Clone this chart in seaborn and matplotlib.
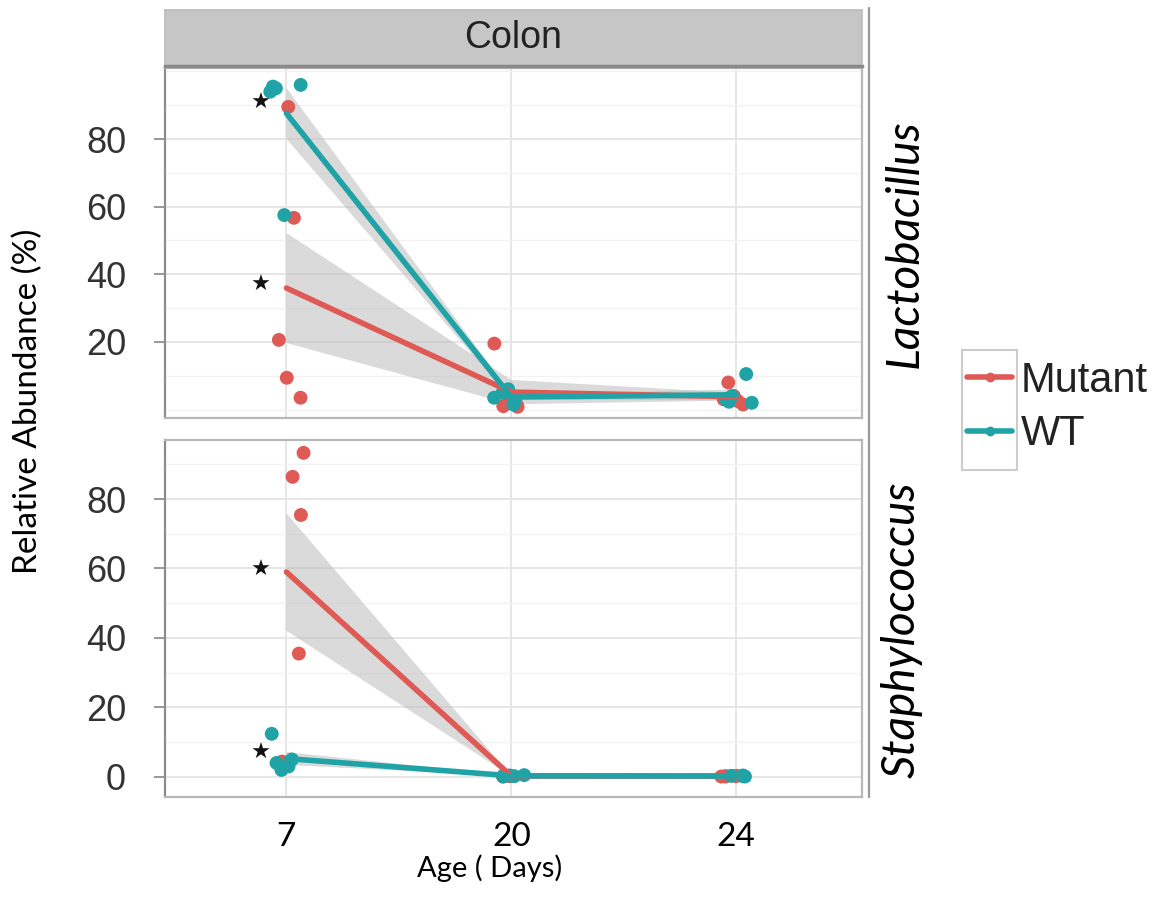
import numpy as np
import pandas as pd
import matplotlib
matplotlib.use("Agg")
import matplotlib.pyplot as plt
import seaborn as sns
from matplotlib.lines import Line2D
from matplotlib.patches import Rectangle
from matplotlib.collections import PolyCollection
from matplotlib.ticker import MultipleLocator

sns.set_theme(style="white")
plt.rcParams["font.family"] = ["Liberation Sans", "DejaVu Sans"]

# data (Colon, relative abundance %)
AGES = ["7", "20", "24"]
GENOTYPES = ["Mutant", "WT"]
TAXA = ["Lactobacillus", "Staphylococcus"]

lacto_mutant_7 = [89.5, 56.7, 20.6, 9.4, 3.5]
lacto_mutant_20 = [19.5, 3.0, 1.5, 1.0, 0.8]
lacto_mutant_24 = [8.0, 1.5, 4.0, 3.0, 2.5]
lacto_wt_7 = [96.0, 95.5, 95.0, 94.0, 57.5]
lacto_wt_20 = [2.5, 3.5, 1.5, 5.0, 6.0]
lacto_wt_24 = [10.5, 2.3, 3.0, 4.0, 2.0]

staph_mutant_7 = [93.3, 86.4, 75.4, 35.5, 4.4]
staph_mutant_20 = [0.3, 0.2, 0.1, 0.4, 0.2]
staph_mutant_24 = [0.2, 0.1, 0.3, 0.1, 0.2]
staph_wt_7 = [12.4, 5.0, 3.0, 2.0, 4.0]
staph_wt_20 = [0.5, 0.2, 0.3, 0.1, 0.4]
staph_wt_24 = [0.3, 0.2, 0.1, 0.4, 0.2]

# significance stars at day 7 (y positions)
lacto_star_y = [90.6, 36.8]
staph_star_y = [59.5, 7.0]

PALETTE = {"Mutant": "#E05A55", "WT": "#1FA3A6"}

groups = {
    ("Lactobacillus", "Mutant"): [lacto_mutant_7, lacto_mutant_20, lacto_mutant_24],
    ("Lactobacillus", "WT"): [lacto_wt_7, lacto_wt_20, lacto_wt_24],
    ("Staphylococcus", "Mutant"): [staph_mutant_7, staph_mutant_20, staph_mutant_24],
    ("Staphylococcus", "WT"): [staph_wt_7, staph_wt_20, staph_wt_24],
}
rows = []
for (taxon, geno), per_age in groups.items():
    for age, vals in zip(AGES, per_age):
        for v in vals:
            rows.append({"taxon": taxon, "genotype": geno, "age": age, "abundance": v})
df = pd.DataFrame(rows)
df["pos"] = df["age"].map({a: i for i, a in enumerate(AGES)})

W, H = 1158, 911
fig = plt.figure(figsize=(W / 100, H / 100), dpi=100)

def fbox(x0, y0, x1, y1):
    return [x0 / W, 1 - y1 / H, (x1 - x0) / W, (y1 - y0) / H]

ax_top = fig.add_axes(fbox(165, 68, 862, 418))
ax_bot = fig.add_axes(fbox(165, 440, 862, 797))
panel_cfg = [
    (ax_top, "Lactobacillus", (-2.5, 101), [20, 40, 60, 80], lacto_star_y),
    (ax_bot, "Staphylococcus", (-5.8, 97), [0, 20, 40, 60, 80], staph_star_y),
]

np.random.seed(3)
for ax, taxon, ylim, yticks, stars in panel_cfg:
    sub = df[df["taxon"] == taxon]
    sns.stripplot(data=sub, x="age", y="abundance", hue="genotype", order=AGES,
                  hue_order=GENOTYPES, palette=PALETTE, jitter=0.08, size=10,
                  linewidth=0, ax=ax, legend=False, zorder=3)
    n_before = len(ax.collections)
    sns.lineplot(data=sub, x="pos", y="abundance", hue="genotype",
                 hue_order=GENOTYPES, palette=PALETTE, errorbar="se",
                 linewidth=4, ax=ax, legend=False, zorder=4)
    for coll in ax.collections[n_before:]:
        if isinstance(coll, PolyCollection):
            coll.set_facecolor("#bdbdbd")
            coll.set_alpha(0.55)
            coll.set_edgecolor("none")
            coll.set_zorder(2)
    for s in stars:
        ax.text(-0.115, s, "\u2605", ha="center", va="center", fontsize=16,
                color="#111111", family="DejaVu Sans", zorder=5)

    ax.set_xlim(-0.54, 2.56)
    ax.set_ylim(*ylim)
    ax.set_xticks(range(len(AGES)))
    ax.set_yticks(yticks)
    ax.yaxis.set_minor_locator(MultipleLocator(10))
    ax.set_facecolor("white")
    ax.grid(True, which="major", color="#e6e6e6", linewidth=1.4, zorder=0)
    ax.grid(True, which="minor", axis="y", color="#f2f2f2", linewidth=1.0, zorder=0)
    ax.set_axisbelow(True)
    for sp in ax.spines.values():
        sp.set_visible(True)
        sp.set_color("#b8b8b8")
        sp.set_linewidth(1.6)
    ax.spines["left"].set_color("#8c8c8c")
    ax.tick_params(axis="y", which="major", length=8, width=1.2, color="#888888",
                   labelsize=26, labelcolor="#333333", pad=20, left=True)
    ax.tick_params(axis="y", which="minor", length=0)
    ax.set_xlabel("")
    ax.set_ylabel("")

ax_top.tick_params(axis="x", length=0, labelbottom=False)
ax_bot.tick_params(axis="x", length=3, color="#bbbbbb", pad=15, labelsize=24)
ax_bot.set_xticklabels(AGES, family="Lato", color="black")

# facet strip
strip = fig.add_axes(fbox(165, 10, 862, 66))
strip.set_facecolor("#c6c6c6")
strip.set_xticks([])
strip.set_yticks([])
for sp in strip.spines.values():
    sp.set_color("#bdbdbd")
strip.spines["bottom"].set_color("#8a8a8a")
strip.spines["bottom"].set_linewidth(2.5)
strip.text(0.5, 0.5, "Colon", ha="center", va="center", fontsize=27,
           color="#222222", transform=strip.transAxes)

# right-hand row labels
fig.add_artist(Line2D([869 / W, 869 / W], [1 - 8 / H, 1 - 797 / H],
                      color="#999999", linewidth=1.6))
fig.text(905 / W, 1 - 244 / H, "Lactobacillus", rotation=90, ha="center",
         va="center", fontsize=33, style="italic", family="Lato", color="black")
fig.text(902 / W, 1 - 630 / H, "Staphylococcus", rotation=90, ha="center",
         va="center", fontsize=33, style="italic", family="Lato", color="black")

# axis titles
fig.text(28 / W, 1 - 401 / H, "Relative Abundance (%)", rotation=90, ha="center",
         va="center", fontsize=24, family="Lato", color="black")
fig.text(490 / W, 1 - 868 / H, "Age ( Days)", ha="center", va="center",
         fontsize=21, family="Lato", color="black")

# legend: ggplot-style, box drawn around the keys only
handles = [Line2D([], [], color=PALETTE[g], linewidth=4, marker="o", markersize=6)
           for g in GENOTYPES]
leg = fig.legend(handles, GENOTYPES, loc="upper left",
                 bbox_to_anchor=(967 / W, 1 - 361 / H), frameon=False,
                 fontsize=30, handlelength=1.08, handletextpad=0.2,
                 labelspacing=0.32, borderpad=0, borderaxespad=0)
for t in leg.get_texts():
    t.set_color("#222222")
fig.add_artist(Rectangle((962 / W, 1 - 470 / H), 55 / W, 120 / H,
                         transform=fig.transFigure, fill=False,
                         edgecolor="#cccccc", linewidth=1.5))

fig.savefig("out.png", dpi=100)
